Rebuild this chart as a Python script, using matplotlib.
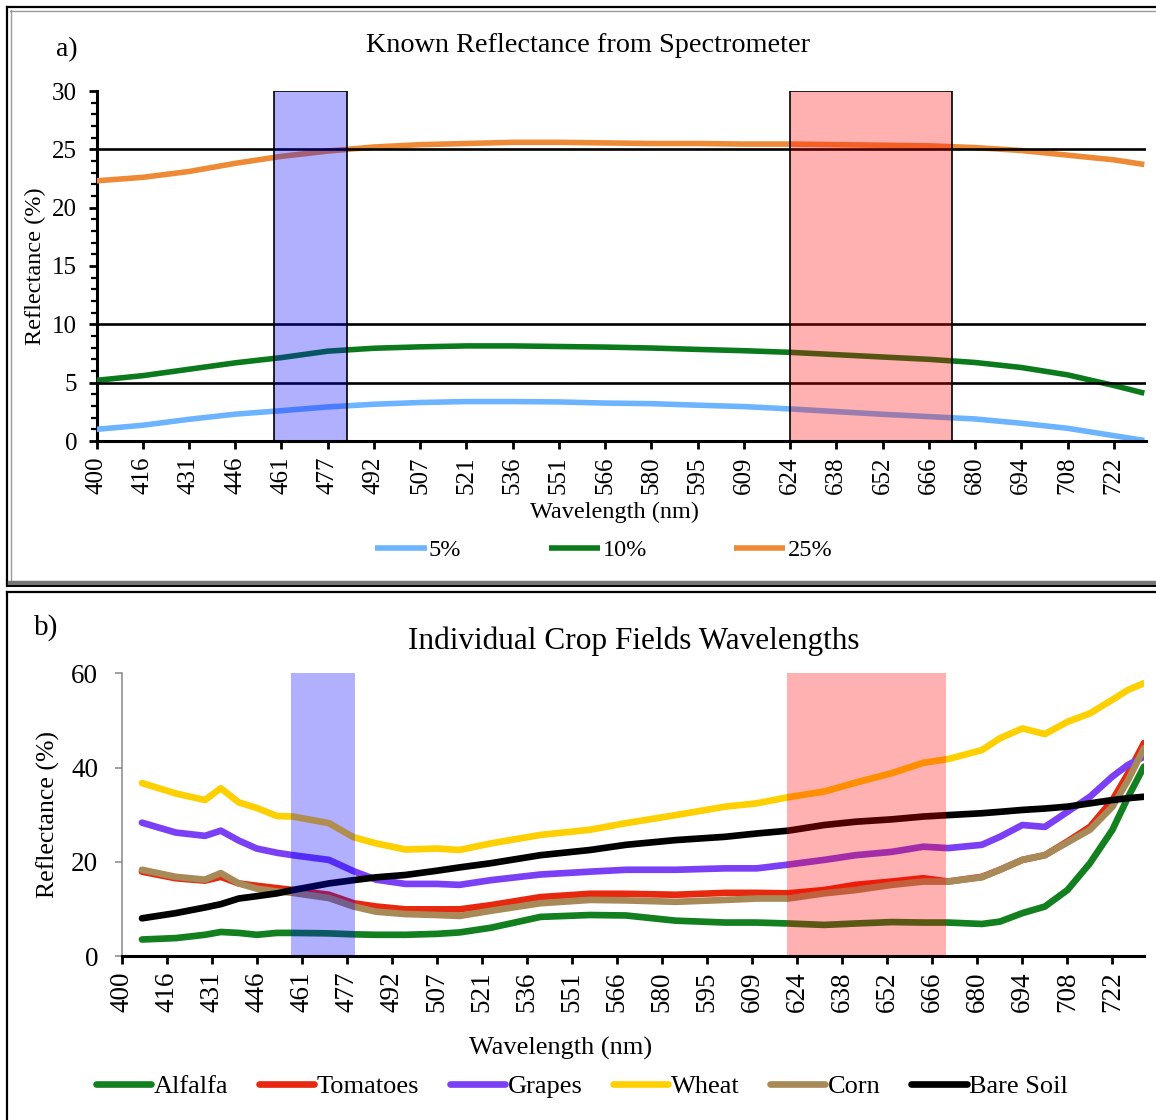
import numpy as np
import matplotlib
matplotlib.use('Agg')
import matplotlib.pyplot as plt
from matplotlib.lines import Line2D
from matplotlib.patches import Rectangle
from matplotlib.ticker import MultipleLocator

plt.rcParams['font.family'] = ['Liberation Serif', 'DejaVu Serif']

W, H = 1156, 1120

# band labels shown under both plots (one per tick, evenly spaced)
wl_labels = ['400', '416', '431', '446', '461', '477', '492', '507', '521', '536', '551',
             '566', '580', '595', '609', '624', '638', '652', '666', '680', '694', '708', '722']

# a) calibration panels, read at every labelled band plus the last band
a_pos = list(range(23)) + [22.66]
ref_5 = [1.0, 1.35, 1.86, 2.3, 2.6, 2.92, 3.15, 3.3, 3.38, 3.38, 3.35, 3.25, 3.2, 3.07,
         2.95, 2.75, 2.52, 2.29, 2.09, 1.89, 1.52, 1.09, 0.46, 0.05]
ref_10 = [5.2, 5.6, 6.15, 6.7, 7.15, 7.7, 7.95, 8.07, 8.15, 8.15, 8.1, 8.05, 7.97, 7.85,
          7.74, 7.6, 7.4, 7.2, 7.0, 6.73, 6.3, 5.67, 4.76, 4.1]
ref_25 = [22.3, 22.6, 23.1, 23.8, 24.4, 24.85, 25.2, 25.4, 25.5, 25.6, 25.6, 25.55, 25.5, 25.5,
          25.45, 25.45, 25.4, 25.35, 25.3, 25.15, 24.9, 24.5, 24.1, 23.7]
ref_levels = [5, 10, 25]
a_blue_band = (3.83, 5.41)
a_red_band = (15.0, 18.5)

# b) crop field spectra
b_pos = [0.45, 1.2, 1.85, 2.2, 2.6, 3.0, 3.45, 3.8, 4.6, 5.15, 5.65, 6.3, 7.0, 7.5, 8.2, 9.3,
         10.4, 11.2, 12.3, 13.4, 14.1, 14.8, 15.6, 16.3, 17.1, 17.8, 18.35, 19.1, 19.5, 20.0,
         20.5, 21.0, 21.5, 22.0, 22.35, 22.7]
alfalfa = [3.5, 3.8, 4.5, 5.1, 4.9, 4.5, 4.9, 4.9, 4.8, 4.6, 4.5, 4.5, 4.7, 5.0, 6.0, 8.3,
           8.7, 8.6, 7.5, 7.1, 7.1, 6.9, 6.6, 6.9, 7.2, 7.1, 7.1, 6.8, 7.3, 9.1,
           10.5, 14.0, 19.7, 26.8, 33.8, 40.2]
tomatoes = [17.9, 16.5, 16.0, 16.8, 15.4, 14.9, 14.4, 14.0, 13.0, 11.2, 10.5, 9.9, 9.9, 9.9, 10.8, 12.5,
            13.2, 13.2, 13.0, 13.4, 13.4, 13.3, 14.0, 15.1, 15.8, 16.5, 15.8, 16.8, 18.3, 20.4,
            21.4, 24.3, 27.4, 33.1, 38.8, 45.2]
grapes = [28.3, 26.2, 25.5, 26.6, 24.5, 22.8, 21.9, 21.4, 20.4, 18.0, 16.2, 15.3, 15.3, 15.1, 16.1, 17.3,
          17.9, 18.3, 18.3, 18.6, 18.6, 19.4, 20.4, 21.4, 22.1, 23.2, 22.9, 23.6, 25.3, 27.8,
          27.4, 30.6, 33.8, 38.1, 40.6, 42.3]
wheat = [36.7, 34.5, 33.1, 35.6, 32.6, 31.4, 29.7, 29.6, 28.2, 25.2, 23.9, 22.6, 22.8, 22.5, 23.9, 25.7,
         26.8, 28.2, 29.9, 31.7, 32.4, 33.7, 34.9, 36.8, 38.8, 41.0, 41.8, 43.7, 46.2, 48.3,
         47.1, 49.7, 51.5, 54.4, 56.5, 57.9]
corn = [18.3, 16.8, 16.2, 17.6, 15.4, 14.3, 13.7, 13.4, 12.3, 10.5, 9.4, 8.9, 8.7, 8.5, 9.6, 11.2,
        11.9, 11.8, 11.5, 11.9, 12.2, 12.2, 13.3, 14.0, 15.1, 15.8, 15.8, 16.7, 18.3, 20.4,
        21.4, 24.1, 26.8, 31.7, 37.4, 44.1]
bare_soil = [8.0, 9.1, 10.3, 11.0, 12.2, 12.7, 13.3, 14.0, 15.4, 16.1, 16.7, 17.2, 18.1, 18.8, 19.7, 21.4,
             22.5, 23.6, 24.6, 25.3, 26.0, 26.6, 27.8, 28.5, 29.0, 29.6, 29.9, 30.3, 30.6, 31.0,
             31.3, 31.7, 32.4, 33.1, 33.5, 33.8]
b_blue_band = (3.77, 5.17)
b_red_band = (14.77, 18.31)

crops = [('Alfalfa', alfalfa, '#12801f'), ('Tomatoes', tomatoes, '#e8280e'),
         ('Grapes', grapes, '#7b40f5'), ('Wheat', wheat, '#ffd000'),
         ('Corn', corn, '#a88a58'), ('Bare Soil', bare_soil, '#000000')]


def fx(x):
    return x / W


def fy(y):
    return 1 - y / H


fig = plt.figure(figsize=(W / 100, H / 100), dpi=100)

# ---------- panel a ----------
ax1 = fig.add_axes([fx(96.5), fy(441), fx(1145.7) - fx(96.5), fy(91) - fy(441)])
for vals, col, lab in [(ref_5, '#6cb4ff', '5%'), (ref_10, '#0b7a1c', '10%'), (ref_25, '#ee8a35', '25%')]:
    ax1.plot(a_pos, vals, color=col, lw=4.0, label=lab, solid_capstyle='butt', zorder=3)
for lvl in ref_levels:
    ax1.axhline(lvl, color='black', lw=1.9, zorder=4)
for (x0, x1), fc in [(a_blue_band, (0, 0, 1, 0.31)), (a_red_band, (1, 0, 0, 0.31))]:
    ax1.add_patch(Rectangle((x0, 0), x1 - x0, 30, facecolor=fc, edgecolor='black', lw=1.2, zorder=5))
ax1.set_xlim(0, 22.69)
ax1.set_ylim(0, 30)
ax1.set_xticks(range(23))
ax1.set_xticklabels(wl_labels, rotation=90, fontsize=18)
ax1.set_yticks(range(0, 31, 5))
ax1.yaxis.set_minor_locator(MultipleLocator(1))
ax1.tick_params(axis='y', labelsize=18, length=6, width=2, pad=8)
ax1.tick_params(axis='y', which='minor', length=4, width=1.6)
ax1.tick_params(axis='x', length=6, width=2, pad=5)
for s in ['top', 'right']:
    ax1.spines[s].set_visible(False)
ax1.spines['left'].set_linewidth(2.2)
ax1.spines['bottom'].set_linewidth(2.2)
ax1.spines['bottom'].set_zorder(6)
ax1.set_ylabel('Reflectance (%)', fontsize=17.5, labelpad=4)
fig.text(fx(615), fy(512), 'Wavelength (nm)', fontsize=17.5, ha='center', va='center')
fig.text(fx(588), fy(45), 'Known Reflectance from Spectrometer', fontsize=20.3, ha='center', va='center')
fig.text(fx(56), fy(50), 'a)', fontsize=20, ha='left', va='center')
h, l = ax1.get_legend_handles_labels()
fig.legend(h, l, loc='center', bbox_to_anchor=(fx(604), fy(550)), ncol=3, frameon=False,
           fontsize=17.5, handlelength=2.1, handletextpad=0.1, columnspacing=3.6)

# ---------- panel b ----------
ax2 = fig.add_axes([fx(121.7), fy(956), fx(1144) - fx(121.7), fy(673.3) - fy(956)])
for name, vals, col in crops:
    ax2.plot(b_pos, vals, color=col, lw=4.8, label=name, solid_capstyle='round', zorder=3)
for (x0, x1), fc in [(b_blue_band, (0, 0, 1, 0.31)), (b_red_band, (1, 0, 0, 0.31))]:
    ax2.add_patch(Rectangle((x0, 0), x1 - x0, 60, facecolor=fc, edgecolor='none', zorder=5))
ax2.set_xlim(0, 22.7)
ax2.set_ylim(0, 60)
ax2.set_xticks(range(23))
ax2.set_xticklabels(wl_labels, rotation=90, fontsize=19.5)
ax2.set_yticks([0, 20, 40, 60])
ax2.tick_params(axis='y', labelsize=19.5, length=5, width=1.1, color='#888888', pad=12)
ax2.tick_params(axis='x', length=6, width=2, pad=5)
for s in ['top', 'right']:
    ax2.spines[s].set_visible(False)
ax2.spines['left'].set_color('#888888')
ax2.spines['left'].set_linewidth(1.1)
ax2.spines['bottom'].set_linewidth(2.2)
ax2.spines['bottom'].set_zorder(6)
ax2.set_ylabel('Reflectance (%)', fontsize=18.5, labelpad=8)
fig.text(fx(561), fy(1048), 'Wavelength (nm)', fontsize=19, ha='center', va='center')
fig.text(fx(634), fy(641), 'Individual Crop Fields Wavelengths', fontsize=22.5, ha='center', va='center')
fig.text(fx(34), fy(628), 'b)', fontsize=21, ha='left', va='center')
h, l = ax2.get_legend_handles_labels()
fig.legend(h, l, loc='center', bbox_to_anchor=(fx(582), fy(1086)), ncol=6, frameon=False,
           fontsize=19, handlelength=2.1, handletextpad=0.1, columnspacing=1.15)

# ---------- panel frames ----------
def hline(y, x0, x1, color, lw):
    fig.add_artist(Line2D([fx(x0), fx(x1)], [fy(y), fy(y)], color=color, lw=lw,
                          transform=fig.transFigure))


def vline(x, y0, y1, color, lw):
    fig.add_artist(Line2D([fx(x), fx(x)], [fy(y0), fy(y1)], color=color, lw=lw,
                          transform=fig.transFigure))


hline(7, 7, W, 'black', 1.6)
hline(10.5, 10, W, '#999999', 1.0)
vline(7, 7, 586, 'black', 1.6)
vline(10.5, 10, 582, '#999999', 1.0)
hline(582.5, 10, W, '#777777', 3.2)
hline(586, 7, W, 'black', 1.4)
hline(592, 7, W, 'black', 1.6)
vline(7, 592, H, 'black', 1.6)

fig.savefig('out.png', dpi=100)
